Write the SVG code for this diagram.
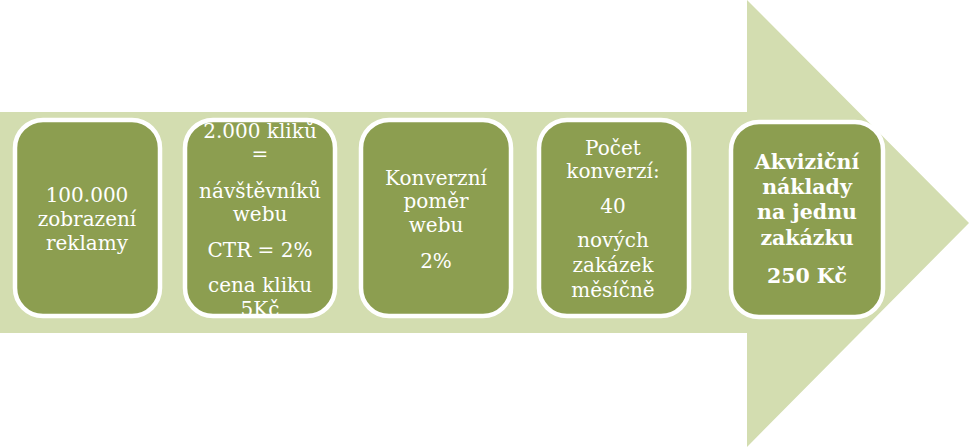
<svg xmlns="http://www.w3.org/2000/svg" width="970" height="447" viewBox="0 0 970 447">
<style>
.box{fill:#8c9e50;}
.brd{fill:none;stroke:#ffffff;stroke-width:4.5;}
.t{font-family:"DejaVu Serif","Liberation Serif",serif;font-size:20px;fill:#ffffff;text-anchor:middle;}
.b{font-weight:bold;font-size:20.5px;}
</style>
<defs>
<clipPath id="c2"><rect x="185" y="120" width="150" height="196" rx="28"/></clipPath>
</defs>
<g id="arrow">
<polygon points="0,112 747,112 747,0 969,223 747,447 747,333 0,333" fill="#d3ddb0"/>
</g>
<g id="connectors"></g>
<g id="n1">
<rect class="box" x="15" y="120" width="145" height="196" rx="28"/>
<rect class="brd" x="15" y="120" width="145" height="196" rx="28"/>
<text class="t" x="87" y="202">100.000</text>
<text class="t" x="87" y="226">zobrazení</text>
<text class="t" x="87" y="250">reklamy</text>
</g>
<g id="n2">
<rect class="box" x="185" y="120" width="150" height="196" rx="28"/>
<g clip-path="url(#c2)">
<text class="t" x="260" y="138">2.000 kliků</text>
<text class="t" x="260" y="161">=</text>
<text class="t" x="260" y="198">návštěvníků</text>
<text class="t" x="260" y="221">webu</text>
<text class="t" x="260" y="257">CTR = 2%</text>
<text class="t" x="260" y="292">cena kliku</text>
<text class="t" x="260" y="316">5Kč</text>
</g>
<rect class="brd" x="185" y="120" width="150" height="196" rx="28"/>
</g>
<g id="n3">
<rect class="box" x="361" y="120" width="150" height="196" rx="28"/>
<rect class="brd" x="361" y="120" width="150" height="196" rx="28"/>
<text class="t" x="436" y="185">Konverzní</text>
<text class="t" x="436" y="208">poměr</text>
<text class="t" x="436" y="232">webu</text>
<text class="t" x="436" y="268">2%</text>
</g>
<g id="n4">
<rect class="box" x="539" y="120" width="150" height="196" rx="28"/>
<rect class="brd" x="539" y="120" width="150" height="196" rx="28"/>
<text class="t" x="613" y="155">Počet</text>
<text class="t" x="613" y="178">konverzí:</text>
<text class="t" x="613" y="213">40</text>
<text class="t" x="613" y="247">nových</text>
<text class="t" x="613" y="272">zakázek</text>
<text class="t" x="613" y="297">měsíčně</text>
</g>
<g id="n5">
<rect class="box" x="731" y="122" width="152" height="195" rx="28"/>
<rect class="brd" x="731" y="122" width="152" height="195" rx="28"/>
<text class="t b" x="807" y="169">Akviziční</text>
<text class="t b" x="807" y="194">náklady</text>
<text class="t b" x="807" y="219">na jednu</text>
<text class="t b" x="807" y="245">zakázku</text>
<text class="t b" x="807" y="283">250 Kč</text>
</g>
</svg>
